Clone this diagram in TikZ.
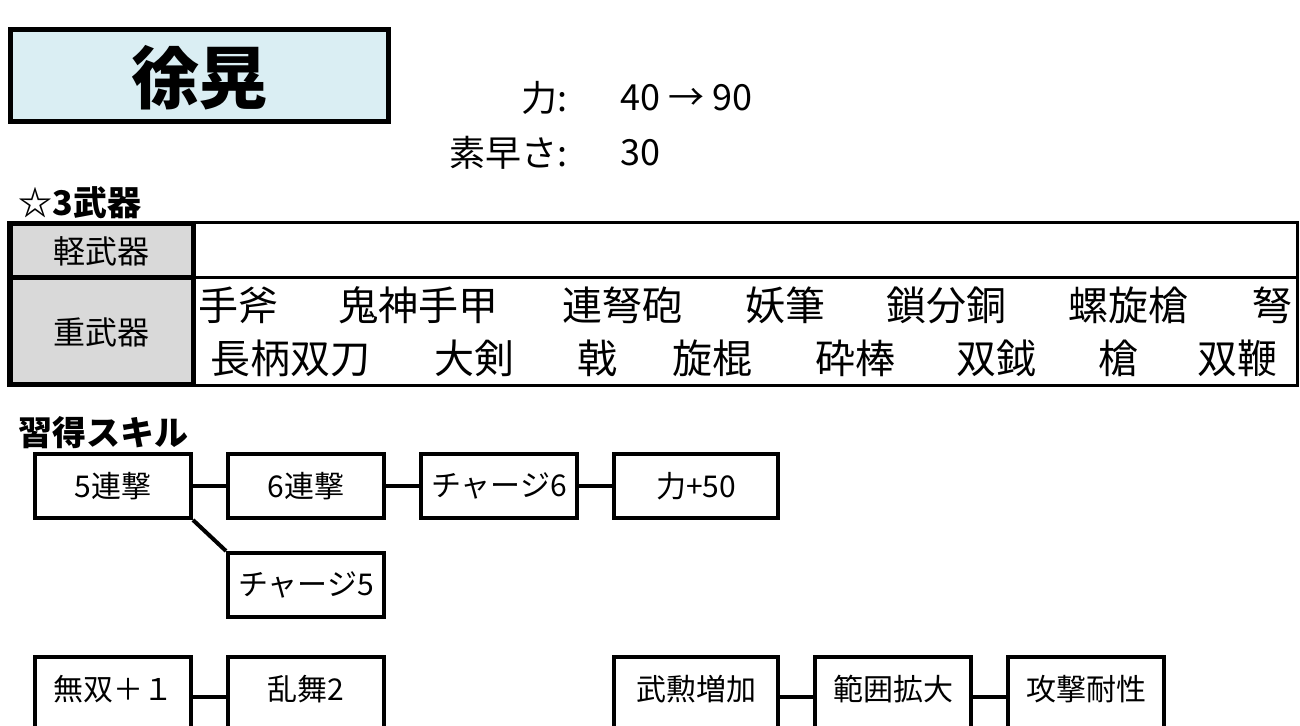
\documentclass[tikz,border=0pt]{standalone}
\usepackage{fontspec}
\setmainfont{Noto Sans CJK JP}
\usetikzlibrary{positioning}
\definecolor{titleblue}{HTML}{DAEEF3}
\definecolor{cellgray}{HTML}{D9D9D9}

\tikzset{
  skill/.style={draw, line width=2pt, minimum width=78pt, minimum height=32pt, inner sep=0pt, font=\fontsize{15}{15}\selectfont},
  lastrow/.style={skill, minimum height=40pt, text depth=9pt},
  link/.style={line width=2pt},
  weapon/.style={anchor=west, inner sep=0pt, font=\fontsize{20}{20}\selectfont},
  heading/.style={anchor=west, inner sep=0pt, font=\fontsize{17}{17}\selectfont\bfseries},
  stat/.style={inner sep=0pt, font=\fontsize{18}{18}\selectfont},
  cell/.style={inner sep=0pt, font=\fontsize{16}{16}\selectfont},
}

\begin{document}
\begin{tikzpicture}[x=0.5pt, y=-0.5pt]
\useasboundingbox (0,0) rectangle (1300,726);
% name box
\draw [fill=titleblue, line width=2.5pt] (10,30) rectangle (388,122);
\node (name) at (199,78) [inner sep=0pt, font=\fontsize{34}{34}\selectfont\bfseries] {徐晃};
\node (powlabel) at (568,98) [stat, anchor=east] {力:};
\node (powval) at (620,98) [stat, anchor=west] {40 → 90};
\node (spdlabel) at (568,153) [stat, anchor=east] {素早さ:};
\node (spdval) at (620,153) [stat, anchor=west] {30};
% weapons
\node (weapons) at (18,203) [heading] {☆3武器};
\draw [line width=1.5pt] (8,223) rectangle (1297,386);
\draw [line width=1.5pt] (193,278) -- (1297,278);
\draw [fill=cellgray, line width=2.5pt] (10,224) rectangle (193,278);
\draw [fill=cellgray, line width=2.5pt] (10,278) rectangle (193,385);
\node (light) at (101,251) [cell] {軽武器};
\node (heavy) at (101,332) [cell] {重武器};
\foreach \x/\w in {198/手斧, 338/鬼神手甲, 562/連弩砲, 745/妖筆, 886/鎖分銅, 1068/螺旋槍, 1252/弩}
  \node (top-\x) at (\x,305) [weapon] {\w};
\foreach \x/\w in {210/長柄双刀, 434/大剣, 577/戟, 672/旋棍, 815/砕棒, 956/双鉞, 1098/槍, 1197/双鞭}
  \node (bot-\x) at (\x,358) [weapon] {\w};
% skills
\node (skills) at (18,433) [heading] {習得スキル};
\node (combo5) at (113,486) [skill] {5連撃};
\node (combo6) [skill, right=16.5pt of combo5] {6連撃};
\node (charge6) [skill, right=16.5pt of combo6] {チャージ6};
\node (power) [skill, right=16.5pt of charge6, minimum width=82pt] {力+50};
\node (charge5) [skill, below=15.5pt of combo6] {チャージ5};
\draw [link] (combo5) -- (combo6) -- (charge6) -- (power);
\draw [link] (combo5.south east) -- (charge5.north west);
\node (musou) at (113,697) [lastrow] {無双＋１};
\node (ranbu) [lastrow, right=16.5pt of musou] {乱舞2};
\draw [link] (musou) -- (ranbu);
\node (merit) at (696,697) [lastrow, minimum width=82pt] {武勲増加};
\node (range) [lastrow, right=16.5pt of merit] {範囲拡大};
\node (guard) [lastrow, right=16.5pt of range] {攻撃耐性};
\draw [link] (merit) -- (range) -- (guard);
\end{tikzpicture}
\end{document}
